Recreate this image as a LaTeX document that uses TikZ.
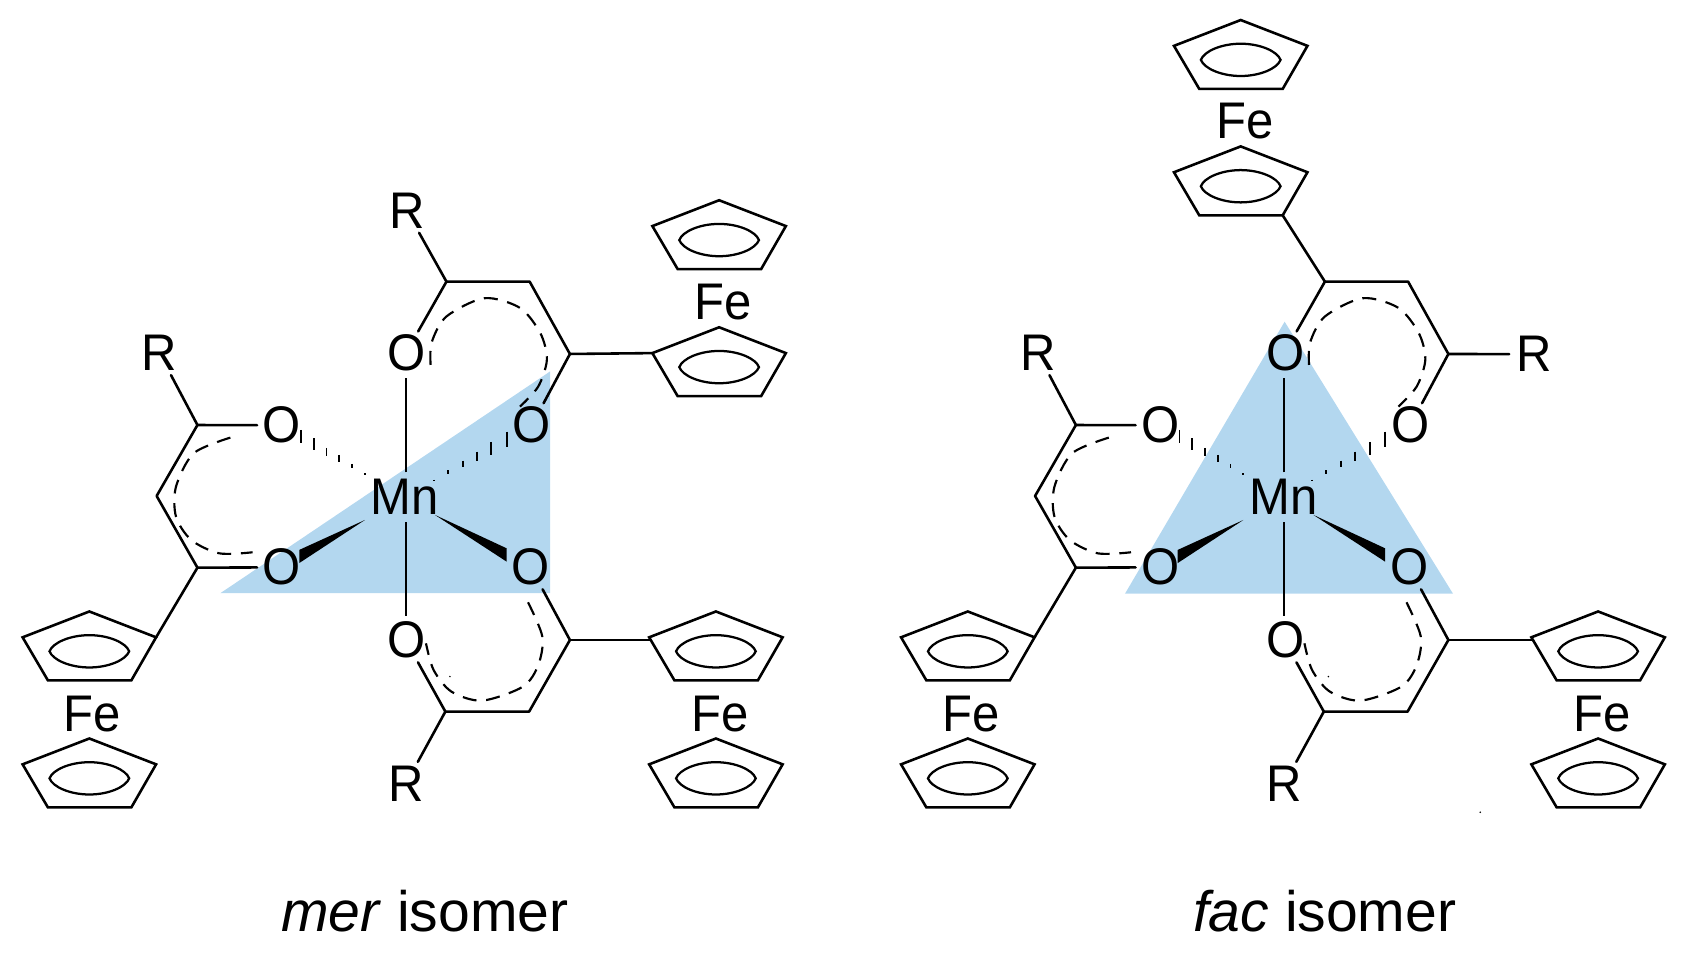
\documentclass[tikz,border=0pt]{standalone}
\usepackage{fontspec}
\setmainfont{Liberation Sans}
\usetikzlibrary{calc}
\definecolor{faceblue}{HTML}{B3D7EF}
\newcommand{\atm}[1]{\smash{\makebox[0pt]{\raisebox{-.35em}{\scalebox{.99}[1.04]{#1}}}}}
\tikzset{
  bond/.style={line width=2.4pt,line cap=round,line join=round},
  thinbond/.style={line width=2pt},
  deloc/.style={line width=2pt,dash pattern=on 13pt off 9pt},
  ringline/.style={line width=2.4pt,line join=miter},
  lens/.style={line width=2.1pt},
  hashline/.style={line width=1.7pt},
  atom/.style={circle,inner sep=0pt,minimum size=46pt,font=\fontsize{46}{50}\selectfont},
  caption/.style={inner sep=0pt,anchor=base,font=\fontsize{53}{60}\selectfont},
  face/.style={fill=faceblue,draw=none}
}
% cyclopentadienyl ring: name, x, y of the top vertex
\newcommand{\Cp}[3]{%
  \begin{scope}[shift={(#2,#3)}]
    \coordinate (#1t) at (0,0);
    \coordinate (#1l) at (-62,24);
    \coordinate (#1r) at (62,24);
    \coordinate (#1a) at (-38.5,64);
    \coordinate (#1b) at (39,64);
    \coordinate (#1j) at (-61,26.5);
    \draw[ringline] (#1t) -- (#1r) -- (#1b) -- (#1a) -- (#1l) -- cycle;
    \draw[lens] (-37,37) .. controls (-34,29) and (-18,22) .. (0,22)
      .. controls (18,22) and (34,29) .. (37,37)
      .. controls (34,45) and (18,52) .. (0,52)
      .. controls (-18,52) and (-34,45) .. cycle;
  \end{scope}}
% common part of both isomers, drawn relative to the mer position; #2 = x of the lower right rings
\newcommand{\Core}[2]{%
  \node[atom] (#1Mn) at (377,462) {\atm{\kern-2pt Mn}};
  \node[atom] (#1Ot) at (377,328) {\atm{\kern2pt O}};
  \node[atom] (#1Oul) at (262,395) {\atm{O}};
  \node[atom] (#1Our) at (494,395) {\atm{O}};
  \node[atom] (#1Oll) at (262,527) {\atm{O}};
  \node[atom] (#1Olr) at (493,527) {\atm{O}};
  \node[atom] (#1Ob) at (377,595) {\atm{\kern2pt O}};
  \node[atom] (#1Rl) at (148,328) {\atm{R}};
  \node[atom] (#1Rb) at (377,728) {\atm{R}};
  % metal-oxygen bonds
  \draw[thinbond] (#1Mn) -- (#1Ot);
  \draw[thinbond] (#1Mn) -- (#1Ob);
  \coordinate (#1wl) at (339,483);
  \coordinate (#1wla) at (278,510.8);
  \coordinate (#1wlb) at (278,523);
  \coordinate (#1wr) at (404,478.3);
  \coordinate (#1wra) at (470.6,509.3);
  \coordinate (#1wrb) at (470.6,521.7);
  \fill (#1wl) -- (#1wla) -- (#1wlb) -- cycle;
  \fill (#1wr) -- (#1wra) -- (#1wrb) -- cycle;
  \foreach \hx/\hy/\hl in {279.6/405.6/6.2,291.5/412.7/5.7,303.3/420/3.9,315.2/425.7/3.1,327/432.8/2,339/440.3/.7,
                           470.6/408/7,456.4/416.4/6,443/424/4.5,430/431/3.2,416/438.7/2,403/446.5/.7}
    \draw[hashline] (\hx,\hy-\hl) -- (\hx,\hy+\hl);
  % top ligand
  \coordinate (#1Ta) at (414.7,261.6);
  \coordinate (#1Tb) at (492,261.6);
  \coordinate (#1Tc) at (529.4,328.8);
  \draw[bond] (#1Ot) -- (#1Ta) -- (#1Tb) -- (#1Tc) -- (#1Our);
  \draw[deloc] plot[smooth] coordinates {(400,339) (401,318) (414.7,294) (450,277) (483,286) (502,309.6) (508,334) (500,359) (483,377.7)};
  % left ligand
  \coordinate (#1La) at (183.4,394.8);
  \coordinate (#1Lb) at (145.5,460.7);
  \coordinate (#1Lc) at (183.4,527.3);
  \draw[bond] (#1Oul) -- (#1La) -- (#1Lb) -- (#1Lc) -- (#1Oll);
  \draw[bond] (#1La) -- (#1Rl);
  \draw[deloc] plot[smooth] coordinates {(214,406.5) (180,421) (163.5,452) (163.5,480) (177.7,501.6) (203.8,514) (234.6,513)};
  % bottom ligand
  \coordinate (#1Ba) at (413.7,661);
  \coordinate (#1Bb) at (491.5,661);
  \coordinate (#1Bc) at (529.4,594.5);
  \draw[bond] (#1Ob) -- (#1Ba) -- (#1Bb) -- (#1Bc) -- (#1Olr);
  \draw[bond] (#1Ba) -- (#1Rb);
  \draw[deloc] plot[smooth] coordinates {(490.5,559.5) (503.8,591.4) (500,617.7) (485.8,637.8) (447.9,650.8) (419.4,642.5) (402.8,622.4) (395.7,597.6)};
  \fill (418,628.5) circle (.8);
  % ferrocenyl groups of the left and bottom ligands
  \Cp{#1A}{83}{568}
  \Cp{#1B}{83}{686}
  \node[atom] (#1FeA) at (86,663) {\atm{Fe}};
  \draw[bond] (#1Lc) -- (#1Ar);
  \Cp{#1C}{#2}{568}
  \Cp{#1D}{#2}{686}
  \node[atom] (#1FeC) at (#2+4,663) {\atm{Fe}};
  \draw[bond] (#1Bc) -- (#1Cj);
}
\begin{document}
\begin{tikzpicture}[x=1pt,y=-1pt]
\useasboundingbox (0,0) rectangle (1568,889);
% coordination faces
\coordinate (mF1) at (204.7,551);
\coordinate (mF2) at (511,551);
\coordinate (mF3) at (511,345);
\coordinate (fF1) at (1045,551.5);
\coordinate (fF2) at (1349.7,551.5);
\coordinate (fF3) at (1193.3,298.8);
\fill[face] (mF1) -- (mF2) -- (mF3) -- cycle;
\fill[face] (fF1) -- (fF2) -- (fF3) -- cycle;
% mer isomer
\Core{m}{665}
\node[atom] (mRt) at (378,196) {\atm{R}};
\draw[bond] (mTa) -- (mRt);
\Cp{mE}{668}{186}
\Cp{mG}{668}{304}
\node[atom] (mFeE) at (672,281) {\atm{Fe}};
\draw[bond] (mTc) -- (mGl);
\node[caption] (mcap) at (394.5,865) {\textit{mer} isomer};
% fac isomer
\begin{scope}[shift={(816,0)}]
\Core{f}{668.5}
\node[atom] (fRt) at (609,329) {\atm{R}};
\draw[bond] (fTc) -- (fRt);
\Cp{fE}{336.5}{18.6}
\Cp{fG}{336.5}{136}
\node[atom] (fFeE) at (341,113) {\atm{Fe}};
\draw[bond] (fTa) -- (fGb);
\fill (559,754.5) circle (.8);
\end{scope}
\node[caption] (fcap) at (1230.5,865) {\textit{fac} isomer};
\end{tikzpicture}
\end{document}
